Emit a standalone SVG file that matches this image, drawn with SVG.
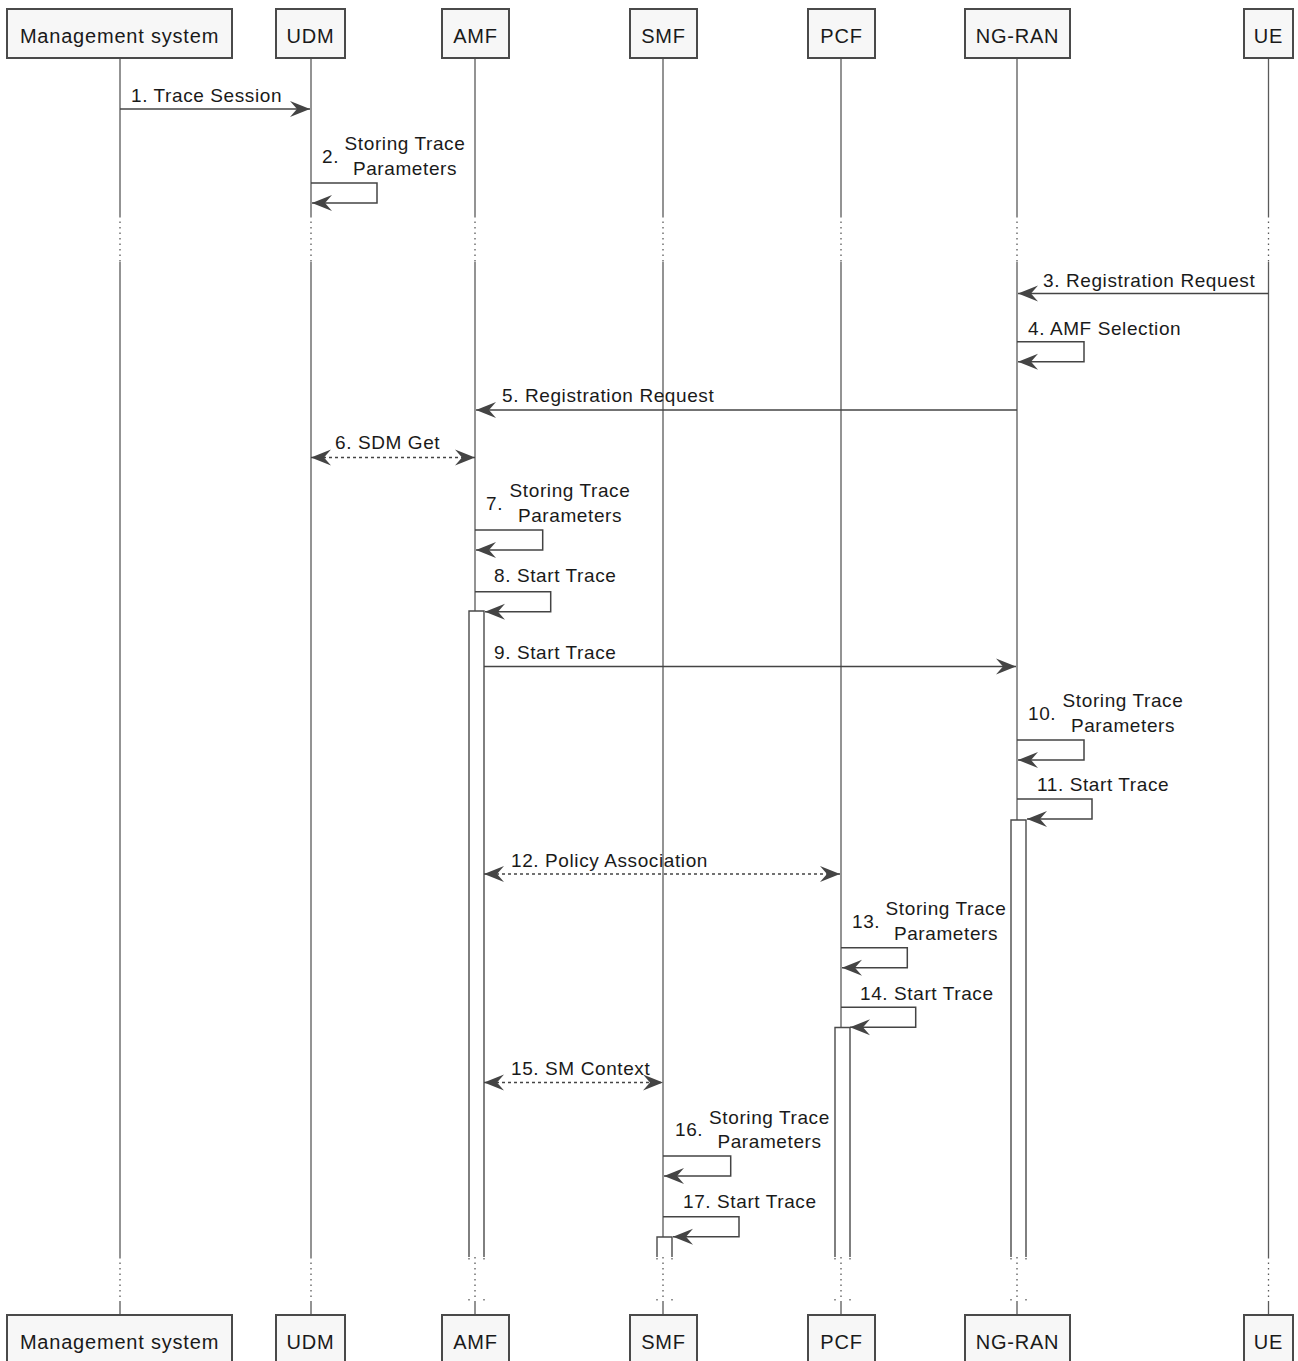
<svg xmlns="http://www.w3.org/2000/svg" width="1298" height="1361" viewBox="0 0 1298 1361">
<style>
.box{fill:#f7f7f7;stroke:#4a4a4a;stroke-width:2}
.pt{font-family:"Liberation Sans",Arial,sans-serif;font-size:20px;letter-spacing:0.8px;fill:#1a1a1a;text-anchor:middle}
.life{stroke:#5a5a5a;stroke-width:1.3;fill:none}
.dot{stroke:#5a5a5a;stroke-width:1.3;fill:none;stroke-dasharray:1.5 4}
.actf{fill:#fff;stroke:none}
.act{fill:none;stroke:#4a4a4a;stroke-width:1.4}
.msg{stroke:#444;stroke-width:1.5;fill:none;marker-end:url(#ah)}
.bi{stroke-dasharray:3 3;marker-start:url(#ah)}
.lbl{font-family:"Liberation Sans",Arial,sans-serif;font-size:19px;letter-spacing:0.6px;fill:#1a1a1a}
.c{text-anchor:middle}
</style>
<defs>
<marker id="ah" markerUnits="userSpaceOnUse" viewBox="-21 -9 22 18" refX="0" refY="0" markerWidth="22" markerHeight="18" orient="auto-start-reverse">
<path d="M0,0 L-20,-8 L-13,0 L-20,8 Z" fill="#444"/>
</marker>
</defs>
<rect width="1298" height="1361" fill="#fff"/>

<g id="ms">
<path class="life" d="M120,58V216M120,262V1257M120,1302V1315"/>
<path class="dot" d="M120,216V262M120,1257V1302"/>
<rect class="box" x="7" y="9" width="225" height="49"/>
<text class="pt" x="119.5" y="43">Management system</text>
<rect class="box" x="7" y="1315" width="225" height="49"/>
<text class="pt" x="119.5" y="1349">Management system</text>
</g>

<g id="udm">
<path class="life" d="M311,58V216M311,262V1257M311,1302V1315"/>
<path class="dot" d="M311,216V262M311,1257V1302"/>
<rect class="box" x="276" y="9" width="69" height="49"/>
<text class="pt" x="310.5" y="43">UDM</text>
<rect class="box" x="276" y="1315" width="69" height="49"/>
<text class="pt" x="310.5" y="1349">UDM</text>
</g>

<g id="amf">
<path class="life" d="M475,58V216M475,262V611M475,1302V1315"/>
<path class="dot" d="M475,216V262M475,1257V1302M469,1258V1261M484,1258V1261M469,1299V1302M484,1299V1302"/>
<rect class="actf" x="469" y="611" width="15" height="646"/>
<path class="act" d="M469,1257V611H484V1257"/>
<rect class="box" x="442" y="9" width="67" height="49"/>
<text class="pt" x="475.5" y="43">AMF</text>
<rect class="box" x="442" y="1315" width="67" height="49"/>
<text class="pt" x="475.5" y="1349">AMF</text>
</g>

<g id="smf">
<path class="life" d="M663,58V216M663,262V1237M663,1302V1315"/>
<path class="dot" d="M663,216V262M663,1257V1302M657,1258V1261M672,1258V1261M657,1299V1302M672,1299V1302"/>
<rect class="actf" x="657" y="1237" width="15" height="20"/>
<path class="act" d="M657,1257V1237H672V1257"/>
<rect class="box" x="630" y="9" width="67" height="49"/>
<text class="pt" x="663.5" y="43">SMF</text>
<rect class="box" x="630" y="1315" width="67" height="49"/>
<text class="pt" x="663.5" y="1349">SMF</text>
</g>

<g id="pcf">
<path class="life" d="M841,58V216M841,262V1027.5M841,1302V1315"/>
<path class="dot" d="M841,216V262M841,1257V1302M835,1258V1261M850,1258V1261M835,1299V1302M850,1299V1302"/>
<rect class="actf" x="835" y="1027.5" width="15" height="229.5"/>
<path class="act" d="M835,1257V1027.5H850V1257"/>
<rect class="box" x="808" y="9" width="67" height="49"/>
<text class="pt" x="841.5" y="43">PCF</text>
<rect class="box" x="808" y="1315" width="67" height="49"/>
<text class="pt" x="841.5" y="1349">PCF</text>
</g>

<g id="ngran">
<path class="life" d="M1017,58V216M1017,262V820M1017,1302V1315"/>
<path class="dot" d="M1017,216V262M1017,1257V1302M1011,1258V1261M1026,1258V1261M1011,1299V1302M1026,1299V1302"/>
<rect class="actf" x="1011" y="820" width="15" height="437"/>
<path class="act" d="M1011,1257V820H1026V1257"/>
<rect class="box" x="965" y="9" width="105" height="49"/>
<text class="pt" x="1017.5" y="43">NG-RAN</text>
<rect class="box" x="965" y="1315" width="105" height="49"/>
<text class="pt" x="1017.5" y="1349">NG-RAN</text>
</g>

<g id="ue">
<path class="life" d="M1268.5,58V216M1268.5,262V1257M1268.5,1302V1315"/>
<path class="dot" d="M1268.5,216V262M1268.5,1257V1302"/>
<rect class="box" x="1244" y="9" width="49" height="49"/>
<text class="pt" x="1268.5" y="43">UE</text>
<rect class="box" x="1244" y="1315" width="49" height="49"/>
<text class="pt" x="1268.5" y="1349">UE</text>
</g>

<g id="connectors">
<path class="msg" d="M120,109H310"/>
<text class="lbl" x="131" y="102">1. Trace Session</text>

<path class="msg" d="M311,183H377V203H312"/>
<text class="lbl" x="322" y="163">2.</text>
<text class="lbl c" x="405" y="150">Storing Trace</text>
<text class="lbl c" x="405" y="175">Parameters</text>

<path class="msg" d="M1268.5,293.5H1018"/>
<text class="lbl" x="1043" y="286.5">3. Registration Request</text>

<path class="msg" d="M1017,341.7H1084V361.7H1018"/>
<text class="lbl" x="1028" y="335">4. AMF Selection</text>

<path class="msg" d="M1017,410H476"/>
<text class="lbl" x="502" y="402">5. Registration Request</text>

<path class="msg bi" d="M311,457.5H475"/>
<text class="lbl" x="335" y="448.5">6. SDM Get</text>

<path class="msg" d="M475,530H542.7V550H476"/>
<text class="lbl" x="486" y="510">7.</text>
<text class="lbl c" x="570" y="497">Storing Trace</text>
<text class="lbl c" x="570" y="522">Parameters</text>

<path class="msg" d="M475,591.7H550.7V611.7H485"/>
<text class="lbl" x="494" y="582">8. Start Trace</text>

<path class="msg" d="M484,666.5H1016"/>
<text class="lbl" x="494" y="659">9. Start Trace</text>

<path class="msg" d="M1017,740H1084V760H1018"/>
<text class="lbl" x="1028" y="720">10.</text>
<text class="lbl c" x="1123" y="707">Storing Trace</text>
<text class="lbl c" x="1123" y="732">Parameters</text>

<path class="msg" d="M1017,799H1092V819H1027"/>
<text class="lbl" x="1037" y="791">11. Start Trace</text>

<path class="msg bi" d="M484,874H840"/>
<text class="lbl" x="511" y="866.5">12. Policy Association</text>

<path class="msg" d="M841,947.7H907.3V967.7H842"/>
<text class="lbl" x="852" y="928">13.</text>
<text class="lbl c" x="946" y="914.5">Storing Trace</text>
<text class="lbl c" x="946" y="940">Parameters</text>

<path class="msg" d="M841,1007.3H915.7V1027.3H850"/>
<text class="lbl" x="860" y="1000">14. Start Trace</text>

<path class="msg bi" d="M484,1082.5H663"/>
<text class="lbl" x="511" y="1075">15. SM Context</text>

<path class="msg" d="M663,1156H730.7V1176H664"/>
<text class="lbl" x="675" y="1136">16.</text>
<text class="lbl c" x="769.5" y="1123.5">Storing Trace</text>
<text class="lbl c" x="769.5" y="1148">Parameters</text>

<path class="msg" d="M663,1216.7H739V1236.7H673"/>
<text class="lbl" x="683" y="1207.5">17. Start Trace</text>
</g>
</svg>
